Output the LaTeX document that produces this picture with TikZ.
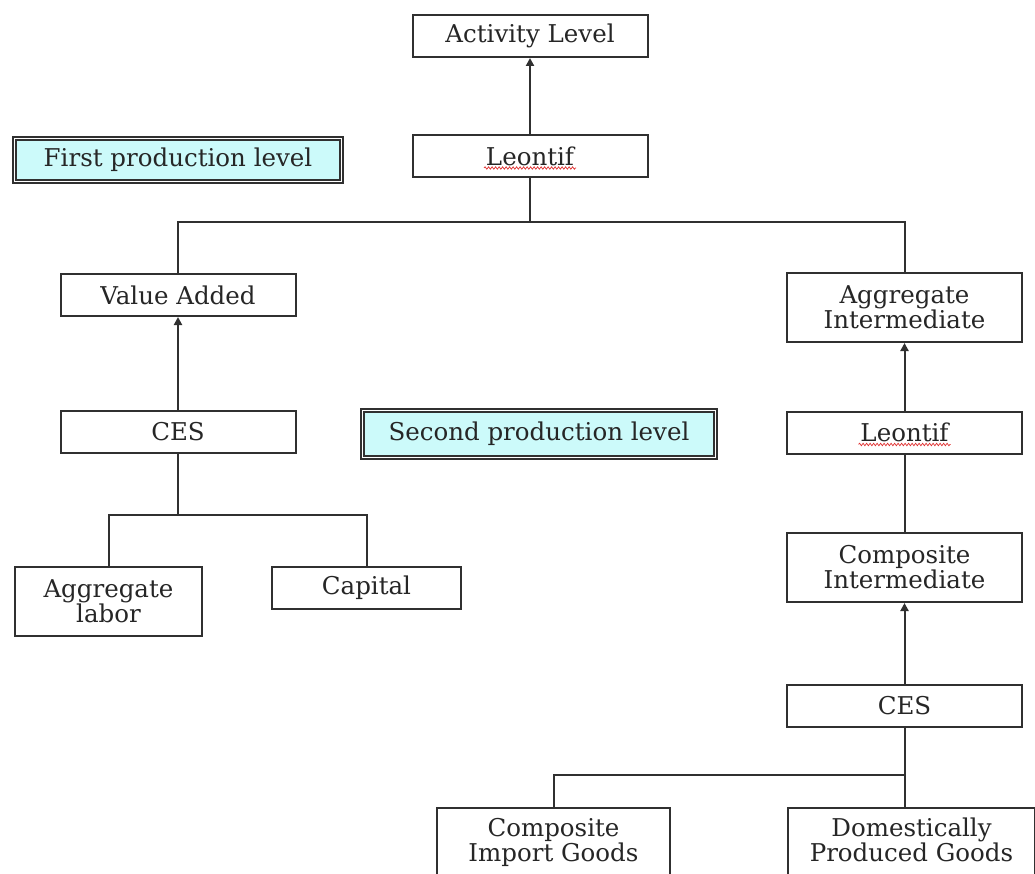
\documentclass[tikz,border=0pt]{standalone}
\usepackage{fontspec}
\setmainfont{DejaVu Serif}
\usetikzlibrary{arrows.meta,positioning,calc,decorations.pathmorphing}
\definecolor{levelcyan}{HTML}{CCFAFA}
\definecolor{linegray}{HTML}{303030}
\definecolor{squigred}{HTML}{E03030}

\begin{document}
\begin{tikzpicture}[x=1pt, y=-1pt, >={Triangle[length=8pt,width=8pt]},
  every node/.style={font=\fontsize{24.5}{25}\selectfont, align=center, text=black!85},
  box/.style={draw=linegray, line width=2pt, fill=white, minimum width=235pt, minimum height=42pt, inner sep=0pt},
  tallbox/.style={box, minimum height=69pt},
  levelbox/.style={draw=linegray, double, double distance=1.8pt, line width=1.8pt, fill=levelcyan, minimum height=43pt, inner sep=0pt},
  link/.style={linegray, line width=2pt},
  squig/.style={squigred, line width=0.7pt, decorate, decoration={snake, amplitude=1.2pt, segment length=3.5pt}}]
  \useasboundingbox (0,0) rectangle (1035,874);

  % top level
  \node[box] (act) at (530,36) {Activity Level};
  \node[box] (leo1) at (530,156) {Leontif};
  \node[levelbox, minimum width=327pt] (first) at (178,160) {First production level};

  % value added branch
  \node[box] (va) at (178,295) {Value Added};
  \node[box] (ces1) at (178,432) {CES};
  \node[box, minimum width=187pt, minimum height=69pt] (lab) at (108.5,601.5) {Aggregate\\labor};
  \node[box, minimum width=189pt] (cap) at (366.5,588) {Capital};

  \node[levelbox, minimum width=353pt, minimum height=47pt] (second) at (539,434) {Second production level};

  % intermediate branch
  \node[tallbox] (aggint) at (904.5,307.5) {Aggregate\\Intermediate};
  \node[box] (leo2) at (904.5,432.5) {Leontif};
  \node[tallbox] (compint) at (904.5,567.5) {Composite\\Intermediate};
  \node[box] (ces2) at (904.5,706) {CES};
  \node[tallbox, minimum width=233pt] (imp) at (553.5,842.5) {Composite\\Import Goods};
  \node[tallbox, minimum width=247pt] (dom) at (911.5,842.5) {Domestically\\Produced Goods\vphantom{p}};

  \coordinate (top) at (530,222);
  \coordinate (split1) at (178,515);
  \coordinate (split2) at (904.5,775);

  \draw[link, ->] (leo1) -- (act);
  \draw[link] (leo1) -- (top);
  \draw[link] (va.north) |- (top) -| (aggint.north);
  \draw[link, ->] (ces1) -- (va);
  \draw[link] (ces1) -- (split1);
  \draw[link] (lab.north) |- (split1) -| (cap.north);
  \draw[link, ->] (leo2) -- (aggint);
  \draw[link] (compint) -- (leo2);
  \draw[link, ->] (ces2) -- (compint);
  \draw[link] (ces2) -- (split2) -- (split2 |- dom.north);
  \draw[link] (imp.north) |- (split2);

  % spell-check marks under Leontif
  \draw[squig] ($(leo1)+(-46,12)$) -- ($(leo1)+(46,12)$);
  \draw[squig] ($(leo2)+(-46,12)$) -- ($(leo2)+(46,12)$);
\end{tikzpicture}
\end{document}
